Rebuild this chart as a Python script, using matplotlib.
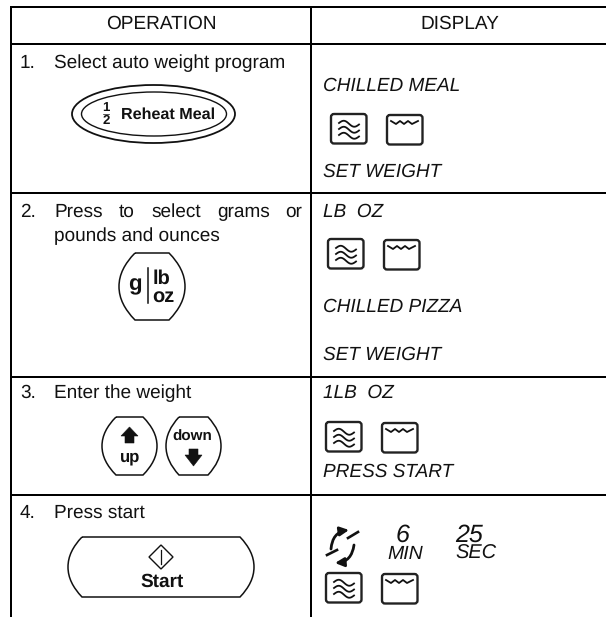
import matplotlib
matplotlib.use('Agg')
import matplotlib.pyplot as plt
import numpy as np
from matplotlib.patches import FancyBboxPatch, Ellipse, Polygon, PathPatch
from matplotlib.path import Path

plt.rcParams['font.family'] = ['Liberation Sans', 'DejaVu Sans']
plt.rcParams['text.hinting'] = 'no_hinting'

W, H = 606, 617

# table layout, in image pixels
col_x = [11, 311]
row_y = [7, 44, 193, 377, 495]

headers = ['OPERATION', 'DISPLAY']
step_numbers = ['1.', '2.', '3.', '4.']
step_labels = ['Select auto weight program', 'pounds and ounces', 'Enter the weight', 'Press start']
step_numbers_y = [63, 212, 393, 513]
step_labels_y = [63, 236, 393, 513]
# step 2 first line is justified in the original
justified_words = ['Press', 'to', 'select', 'grams', 'or']
justified_x = [54, 119, 151, 217, 285]

display_labels = ['CHILLED MEAL', 'SET WEIGHT', 'LB  OZ', 'CHILLED PIZZA', 'SET WEIGHT', '1LB  OZ', 'PRESS START']
display_y = [86, 172, 212, 307, 355, 393, 472]

# where the two little display icons sit (top left of the microwave one)
icon_lefts = [331, 328, 326, 326]
icon_tops = [114, 239, 422, 573]

fig = plt.figure(figsize=(W / 100, H / 100), dpi=100)
ax = fig.add_axes([0, 0, 1, 1])
ax.set_xlim(0, W)
ax.set_ylim(H, 0)
ax.axis('off')

INK = '#111111'
FS = 13.7


def button(x0, x1, y0, y1, inset):
    # flat top and bottom with bulging sides, x0/x1 are the widest points
    ym = (y0 + y1) / 2
    h = y1 - y0
    verts = [(x0 + inset, y0), (x1 - inset, y0),
             (x1 - inset * 0.35, y0 + h * 0.16), (x1, y0 + h * 0.32), (x1, ym),
             (x1, y1 - h * 0.32), (x1 - inset * 0.35, y1 - h * 0.16), (x1 - inset, y1),
             (x0 + inset, y1),
             (x0 + inset * 0.35, y1 - h * 0.16), (x0, y1 - h * 0.32), (x0, ym),
             (x0, y0 + h * 0.32), (x0 + inset * 0.35, y0 + h * 0.16), (x0 + inset, y0)]
    codes = [Path.MOVETO, Path.LINETO,
             Path.CURVE4, Path.CURVE4, Path.CURVE4,
             Path.CURVE4, Path.CURVE4, Path.CURVE4,
             Path.LINETO,
             Path.CURVE4, Path.CURVE4, Path.CURVE4,
             Path.CURVE4, Path.CURVE4, Path.CURVE4]
    ax.add_patch(PathPatch(Path(verts, codes), fc='none', ec=INK, lw=1.1))


def icons(left, top):
    # microwave icon
    ax.add_patch(FancyBboxPatch((left, top), 35.5, 29.5, boxstyle='round,pad=0,rounding_size=3',
                                fc='none', ec='#222222', lw=1.7))
    t = np.linspace(0, 1, 40)
    for dy in [9, 15, 21]:
        ax.plot(left + 8 + 20 * t, top + dy - 2.6 * np.sin(t * 2 * np.pi) + 1.5 * t, color=INK, lw=1.3)
    # grill icon
    gx = left + 56
    ax.add_patch(FancyBboxPatch((gx, top + 1), 35.5, 29.5, boxstyle='round,pad=0,rounding_size=3',
                                fc='none', ec='#222222', lw=1.7))
    ax.plot(gx + np.array([4, 9, 13, 17, 21, 25, 31]), top + np.array([7, 10, 7, 10, 7, 10, 7]), color=INK, lw=1.3)


# grid lines, no right border in the original
for x in col_x:
    ax.plot([x, x], [row_y[0] - 1, H], color='black', lw=1.44, solid_capstyle='butt')
for y in row_y:
    ax.plot([col_x[0], W], [y, y], color='black', lw=1.44, solid_capstyle='butt')

# header and step text
ax.text(161, 24, headers[0], fontsize=FS, ha='center', va='center', color=INK)
ax.text(460, 24, headers[1], fontsize=FS, ha='center', va='center', color=INK)

for num, y in zip(step_numbers, step_numbers_y):
    ax.text(20, y, num, fontsize=FS, va='center', color=INK)
for label, y in zip(step_labels, step_labels_y):
    ax.text(54, y, label, fontsize=FS, va='center', color=INK)
for word, x in zip(justified_words, justified_x):
    ax.text(x, 212, word, fontsize=FS, va='center', color=INK)

for label, y in zip(display_labels, display_y):
    ax.text(323, y, label, fontsize=FS, style='italic', va='center', color=INK)

for left, top in zip(icon_lefts, icon_tops):
    icons(left, top)

# reheat meal button
ax.add_patch(Ellipse((153.5, 114), 163, 58, fc='none', ec=INK, lw=1.3))
ax.add_patch(Ellipse((154, 114), 145, 44, fc='none', ec=INK, lw=1.0))
ax.text(106, 108, '1', fontsize=9.5, fontweight='bold', ha='center', va='center', color=INK)
ax.plot([103, 109], [114, 114], color=INK, lw=0.5)
ax.text(106, 121, '2', fontsize=9.5, fontweight='bold', ha='center', va='center', color=INK)
ax.text(168.5, 115, 'Reheat Meal', fontsize=11.6, fontweight='bold', ha='center', va='center', color=INK)

# g / lb oz button
button(119, 185, 253, 320, 16)
ax.text(135, 285, 'g', fontsize=16, fontweight='bold', ha='center', va='center', color=INK)
ax.plot([148, 148], [268, 303], color=INK, lw=1.1)
ax.text(162, 279, 'lb', fontsize=14.4, fontweight='bold', ha='center', va='center', color=INK)
ax.text(163, 297, 'oz', fontsize=14.4, fontweight='bold', ha='center', va='center', color=INK)

# up / down buttons
button(102, 157, 417, 475, 14)
button(166, 221, 417, 475, 13)
ax.add_patch(Polygon([(121, 436), (129.5, 427), (138, 436), (134, 436), (134, 443), (125, 443), (125, 436)],
                     fc=INK, ec=INK, lw=0.4))
ax.text(130, 457, 'up', fontsize=12, fontweight='bold', ha='center', va='center', color=INK)
ax.text(192.5, 437, 'down', fontsize=11, fontweight='bold', ha='center', va='center', color=INK)
ax.add_patch(Polygon([(189, 449), (198, 449), (198, 455), (202, 455), (193.5, 466), (185, 455), (189, 455)],
                     fc=INK, ec=INK, lw=0.4))

# start button
button(68, 254, 537, 597, 14)
ax.add_patch(Polygon([(149, 557), (161, 545), (173, 557), (161, 569)], fc='none', ec=INK, lw=1.0))
ax.plot([161, 161], [550, 564], color=INK, lw=0.9)
ax.text(162, 582, 'Start', fontsize=13.7, fontweight='bold', ha='center', va='center', color=INK)

# cook indicator and time
ax.text(403, 535, '6', fontsize=18, style='italic', ha='center', va='center', color=INK)
ax.text(405, 554, 'MIN', fontsize=14, style='italic', ha='center', va='center', color=INK)
ax.text(469.5, 535, '25', fontsize=18, style='italic', ha='center', va='center', color=INK)
ax.text(476, 554, 'SEC', fontsize=14.4, style='italic', ha='center', va='center', color=INK)
ax.annotate('', xy=(349, 530), xytext=(331, 549),
            arrowprops=dict(arrowstyle='-|>', connectionstyle='arc3,rad=-0.4', color=INK, lw=2.0,
                            mutation_scale=13, shrinkA=0, shrinkB=0))
ax.annotate('', xy=(335, 563), xytext=(354, 545),
            arrowprops=dict(arrowstyle='-|>', connectionstyle='arc3,rad=-0.4', color=INK, lw=2.0,
                            mutation_scale=13, shrinkA=0, shrinkB=0))
ax.plot([348, 358], [538, 532], color=INK, lw=1.9)
ax.plot([327, 337], [555, 550], color=INK, lw=1.9)

fig.savefig('out.png', dpi=100)
